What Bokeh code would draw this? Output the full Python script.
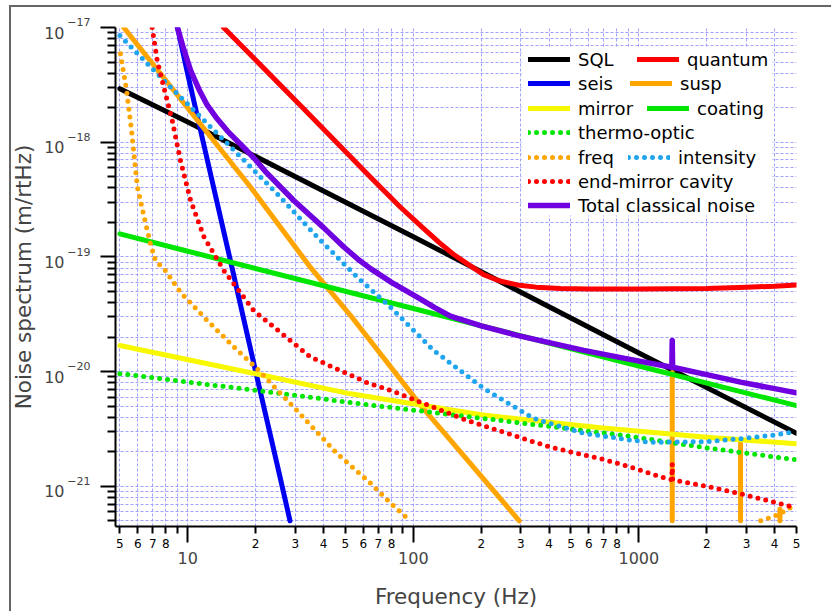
import numpy as np
from bokeh.plotting import figure
from bokeh.models import (LogAxis, FixedTicker, Legend, LegendItem,
                          BoxAnnotation, Range1d, InlineStyleSheet)
from bokeh.core.properties import value
from bokeh.embed import file_html
from bokeh.resources import INLINE

NaN = float("nan")

# ---------------- data ----------------
sql_f = [5, 10, 100, 1000, 5000]
sql_v = [2.93e-18, 1.5e-18, 1.5e-19, 1.45e-20, 2.9e-21]

quantum_f = [14.4, 20, 31.6, 50, 64.6, 87.7, 110, 130, 150, 175, 205, 240, 289, 350, 450, 600,
             1000, 2000, 3000, 4000, 5000]
quantum_v = [1.0e-17, 5.2e-18, 2.09e-18, 8.3e-19, 4.96e-19, 2.71e-19, 1.8e-19, 1.34e-19, 1.06e-19,
             8.6e-20, 7.0e-20, 6.2e-20, 5.7e-20, 5.45e-20, 5.3e-20, 5.25e-20,
             5.25e-20, 5.3e-20, 5.45e-20, 5.55e-20, 5.7e-20]

seis_f = [9.0, 10, 11.4, 15, 20, 25, 28.4]
seis_v = [1.0e-17, 3.9e-18, 1.26e-18, 1.2e-19, 1.0e-20, 1.5e-21, 5.0e-22]

susp_f = [5.2, 19, 35, 52.7, 107.6, 295, NaN, 1406, 1406, NaN, 2824, 2824, NaN, 4222, 4222]
susp_v = [1.0e-17, 4.05e-19, 8.1e-20, 3.08e-20, 5.1e-21, 5.0e-22, NaN, 5.0e-22, 9.8e-21, NaN,
          5.0e-22, 2.36e-21, NaN, 5.0e-22, 6.3e-22]

mirror_f = [5, 20, 52.7, 200, 676, 2000, 5000]
mirror_v = [1.69e-20, 9.57e-21, 6.4e-21, 4.2e-21, 3.24e-21, 2.68e-21, 2.35e-21]

coating_f = [5, 10, 100, 1000, 5000]
coating_v = [1.59e-19, 1.12e-19, 3.55e-20, 1.12e-20, 5.05e-21]

thermo_f = [5, 10, 20.3, 62.5, 289, 889, 1880, 5000]
thermo_v = [9.6e-21, 8.1e-21, 6.85e-21, 5.15e-21, 3.6e-21, 2.75e-21, 2.2e-21, 1.7e-21]

freq_f = [5.03, 5.35, 5.61, 5.98, 6.38, 6.83, 7.19, 7.96, 9.28, 12.2, 16.6, 20, 29.5, 46, 63.5, 80, 97,
          NaN, 3470, 4000, 4520, 5000]
freq_v = [5.9e-18, 2.85e-18, 1.35e-18, 4.05e-19, 2.3e-19, 1.3e-19, 9.3e-20, 7.6e-20, 4.92e-20, 2.79e-20,
          1.53e-20, 1.09e-20, 4.9e-21, 1.92e-21, 1.1e-21, 7.0e-22, 5.0e-22,
          NaN, 5.0e-22, 5.5e-22, 6.2e-22, 7.0e-22]

intensity_f = [5, 7.57, 15, 24.9, 37.5, 56.4, 79.3, 123, 206, 342, 570, 890, 1130, 2000, 2820, 4000, 5000]
intensity_v = [8.5e-18, 3.7e-18, 9.7e-19, 3.55e-19, 1.49e-19, 6.65e-20, 3.64e-20, 1.53e-20, 7.1e-21,
               3.9e-21, 2.9e-21, 2.55e-21, 2.42e-21, 2.45e-21, 2.6e-21, 2.8e-21, 3.0e-21]

endmirror_f = [6.95, 7.32, 7.83, 8.53, 9.28, 10.3, 11.8, 14.45, 19.6, 35, 62.5, 79.3, 173, 406, 676, 889,
               1337, 1400, 1406, 1412, 2000, 2824, 5000]
endmirror_v = [1.0e-17, 5.15e-18, 3.02e-18, 1.55e-18, 6.92e-19, 3.1e-19, 1.49e-19, 7.6e-20, 3.41e-20,
               1.34e-20, 8.0e-21, 6.85e-21, 3.75e-21, 2.19e-21, 1.74e-21, 1.5e-21, 1.16e-21, 1.14e-21,
               1.57e-21, 1.14e-21, 1.0e-21, 8.6e-22, 6.5e-22]

total_f = [9.0, 9.5, 10.3, 11.2, 12.2, 13.5, 15, 17.7, 20, 22, 29.5, 40, 49.2, 57, 64.6, 80, 104, 125,
           146, 200, 289, 400, 570, 889, 1400, 1406, 1412, 2000, 2824, 4000, 5000]
total_v = [1.0e-17, 6.9e-18, 4.2e-18, 2.9e-18, 2.1e-18, 1.6e-18, 1.25e-18, 9.0e-19, 7.0e-19, 5.6e-19,
           3.1e-19, 1.8e-19, 1.22e-19, 9.5e-20, 7.9e-20, 6.0e-20, 4.46e-20, 3.6e-20,
           3.05e-20, 2.5e-20, 2.07e-20, 1.79e-20, 1.53e-20, 1.29e-20, 1.09e-20, 1.87e-20, 1.09e-20,
           9.4e-21, 8.1e-21, 7.1e-21, 6.53e-21]

# ticks / tick labels
x_ticks = [5, 6, 7, 8, 9, 20, 30, 40, 50, 60, 70, 80, 90,
           200, 300, 400, 500, 600, 700, 800, 900, 2000, 3000, 4000, 5000]
x_tick_labels = ["5", "6", "7", "8", "", "2", "3", "4", "5", "6", "7", "8", "",
                 "2", "3", "4", "5", "6", "7", "8", "", "2", "3", "4", "5"]
x_decades = [10, 100, 1000]
x_decade_labels = ["10", "100", "1000"]

y_decades = [1e-21, 1e-20, 1e-19, 1e-18, 1e-17]
y_decade_base = ["10", "10", "10", "10", "10"]
y_decade_exp = ["\u221221", "\u221220", "\u221219", "\u221218", "\u221217"]
y_minor = [k * d for d in [1e-22, 1e-21, 1e-20, 1e-19, 1e-18] for k in range(2, 10)]

FONT = "DejaVu Sans"
GRID = "#a0a0ff"
PX_PER_DECADE = 114.7
BASE_SHIFT = 10 ** (-5.0 / PX_PER_DECADE)   # "10" sits a few px below its tick

# ---------------- figure ----------------
p = figure(x_axis_type="log", y_axis_type="log",
           x_range=Range1d(4.781, 5000), y_range=Range1d(4.462e-22, 1e-17),
           frame_width=681, frame_height=499,
           min_border_left=115, min_border_right=35, min_border_top=27, min_border_bottom=85,
           output_backend="svg", toolbar_location=None)
p.outline_line_color = None
p.background_fill_color = "white"
p.border_fill_color = "white"
p.stylesheets = [InlineStyleSheet(css=(
    ":host { position: relative; }"
    ":host::after { content: ''; position: absolute; left: 9px; top: 5px; right: 0; bottom: 0;"
    " border-left: 2px solid #666; border-top: 2px solid #666; pointer-events: none; z-index: 100; }"
))]

# x axis (small labels + ticks)
xa = p.below[0]
xa.ticker = FixedTicker(ticks=x_ticks, minor_ticks=x_decades)
xa.major_label_overrides = dict(zip(x_ticks, x_tick_labels))
xa.major_label_text_font = FONT
xa.major_label_text_font_size = "12px"
xa.major_label_text_color = "black"
xa.major_label_standoff = -4
xa.major_tick_in = 0
xa.major_tick_out = 7
xa.minor_tick_in = 0
xa.minor_tick_out = 16
xa.axis_line_width = 2
xa.major_tick_line_width = 2
xa.minor_tick_line_width = 2

# x axis (decade labels + title)
xb = LogAxis(ticker=FixedTicker(ticks=x_decades, minor_ticks=[]),
             axis_label="Frequency (Hz)")
xb.major_label_overrides = dict(zip(x_decades, x_decade_labels))
xb.major_label_text_font = FONT
xb.major_label_text_font_size = "16px"
xb.major_label_standoff = 1
xb.axis_line_color = None
xb.major_tick_line_color = None
xb.minor_tick_line_color = None
xb.major_tick_out = 0
xb.major_tick_in = 0
xb.axis_label_text_font = FONT
xb.axis_label_text_font_size = "21.5px"
xb.axis_label_text_font_style = "normal"
xb.axis_label_standoff = 17
p.add_layout(xb, "below")

# y axis: ticks only
ya = p.left[0]
ya.ticker = FixedTicker(ticks=y_decades, minor_ticks=y_minor)
ya.major_label_overrides = {d: "" for d in y_decades}
ya.major_label_standoff = 0
ya.major_tick_in = 0
ya.major_tick_out = 15
ya.minor_tick_in = 0
ya.minor_tick_out = 8
ya.axis_line_width = 2
ya.major_tick_line_width = 2
ya.minor_tick_line_width = 2

# y axis: exponents (raised with a second, empty line)
yb = LogAxis(ticker=FixedTicker(ticks=y_decades, minor_ticks=[]))
yb.major_label_overrides = {d: e + "\n " for d, e in zip(y_decades, y_decade_exp)}
yb.major_label_text_font = FONT
yb.major_label_text_font_size = "11px"
yb.major_label_text_line_height = 0.75
yb.major_label_standoff = 10
yb.axis_line_color = None
yb.major_tick_line_color = None
yb.minor_tick_line_color = None
yb.major_tick_out = 0
yb.major_tick_in = 0
yb.minor_tick_out = 0
yb.minor_tick_in = 0
p.add_layout(yb, "left")

# y axis: base "10" + title
base_pos = [d * BASE_SHIFT for d in y_decades]
yc = LogAxis(ticker=FixedTicker(ticks=base_pos, minor_ticks=[]),
             axis_label="Noise spectrum (m/rtHz)")
yc.major_label_overrides = dict(zip(base_pos, y_decade_base))
yc.major_label_text_font = FONT
yc.major_label_text_font_size = "16px"
yc.major_label_standoff = 0
yc.axis_line_color = None
yc.major_tick_line_color = None
yc.minor_tick_line_color = None
yc.major_tick_out = 0
yc.major_tick_in = 0
yc.minor_tick_out = 0
yc.minor_tick_in = 0
yc.axis_label_text_font = FONT
yc.axis_label_text_font_size = "21.5px"
yc.axis_label_text_font_style = "normal"
yc.axis_label_standoff = 5
p.add_layout(yc, "left")

# grids
for g in (p.xgrid[0], p.ygrid[0]):
    g.grid_line_color = GRID
    g.grid_line_dash = "3 2"
    g.grid_line_width = 1
    g.minor_grid_line_color = GRID
    g.minor_grid_line_dash = "3 2"
    g.minor_grid_line_width = 1

# ---------------- curves ----------------
def arr(a):
    return np.array(a, dtype=float)

def solid(f, v, color, w=5):
    return p.line(arr(f), arr(v), line_color=color, line_width=w,
                  line_cap="round", line_join="round")

def dotted(f, v, color):
    return p.line(arr(f), arr(v), line_color=color, line_width=5,
                  line_dash="0 8", line_cap="round", line_join="round")

r_sql = solid(sql_f, sql_v, "black")
r_quantum = solid(quantum_f, quantum_v, "#ff0000")
r_seis = solid(seis_f, seis_v, "#0000f0")
r_susp = solid(susp_f, susp_v, "#ffa500")
r_mirror = solid(mirror_f, mirror_v, "#f8f800")
r_coating = solid(coating_f, coating_v, "#00e600")
r_thermo = dotted(thermo_f, thermo_v, "#00e600")
r_freq = dotted(freq_f, freq_v, "#ffa500")
r_int = dotted(intensity_f, intensity_v, "#1fa5ee")
r_end = dotted(endmirror_f, endmirror_v, "#ff0000")
r_total = solid(total_f, total_v, "#7100e0", w=5.5)

# ---------------- legend ----------------
p.add_layout(BoxAnnotation(left=406, right=657, top=479, bottom=311,
                           left_units="screen", right_units="screen",
                           top_units="screen", bottom_units="screen",
                           fill_color="white", fill_alpha=1.0, line_color=None))

def add_legend(label, r, x, y):
    lg = Legend(items=[LegendItem(label=value(label), renderers=[r])],
                location=(x, y), orientation="horizontal",
                padding=0, margin=0, spacing=0,
                border_line_color=None, background_fill_alpha=0,
                glyph_width=42, glyph_height=24, label_height=24, label_standoff=8,
                label_text_font=FONT, label_text_font_size="18px",
                label_text_color="black")
    p.add_layout(lg)

add_legend("SQL", r_sql, 413, 455)
add_legend("quantum", r_quantum, 522, 455)
add_legend("seis", r_seis, 413, 431)
add_legend("susp", r_susp, 515, 431)
add_legend("mirror", r_mirror, 413, 406)
add_legend("coating", r_coating, 532, 406)
add_legend("thermo-optic", r_thermo, 413, 382)
add_legend("freq", r_freq, 413, 357)
add_legend("intensity", r_int, 513, 357)
add_legend("end-mirror cavity", r_end, 413, 333)
add_legend("Total classical noise", r_total, 413, 309)

open("out.html", "w").write(file_html(p, INLINE))
